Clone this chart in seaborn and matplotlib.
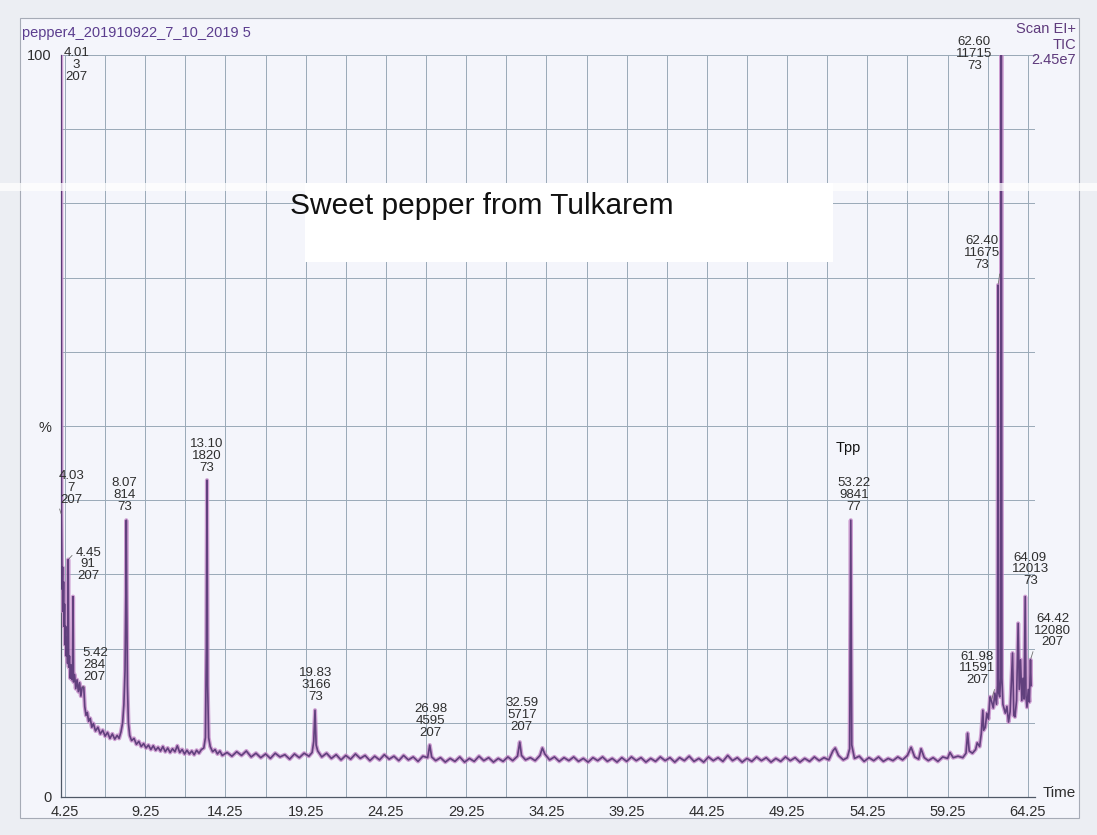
import numpy as np
import seaborn as sns
import matplotlib.pyplot as plt
from matplotlib.patches import Rectangle

# === 1. Trace (retention time in min, % of TIC max) ===
rt_min = [
    4.01, 4.02, 4.03, 4.05, 4.07, 4.10, 4.13, 4.16, 4.19, 4.22, 4.25, 4.29, 4.33, 4.37,
    4.41, 4.45, 4.48, 4.53, 4.58, 4.63, 4.68, 4.72, 4.75, 4.78, 4.85, 4.92, 5.00, 5.08,
    5.16, 5.24, 5.32, 5.42, 5.48, 5.56, 5.64, 5.72, 5.82, 5.92, 6.02, 6.15, 6.30, 6.45,
    6.60, 6.75, 6.90, 7.05, 7.20, 7.35, 7.50, 7.62, 7.74, 7.84, 7.92, 7.99, 8.04, 8.07,
    8.10, 8.14, 8.20, 8.28, 8.40, 8.55, 8.70, 8.85, 9.00, 9.15, 9.30, 9.45, 9.60, 9.75,
    9.90, 10.05, 10.20, 10.35, 10.50, 10.65, 10.80, 10.95, 11.10, 11.25, 11.40, 11.55,
    11.70, 11.85, 12.00, 12.15, 12.30, 12.45, 12.60, 12.75, 12.90, 13.00, 13.06, 13.10,
    13.14, 13.20, 13.30, 13.45, 13.60, 13.75, 13.90, 14.05,
    14.35, 14.65, 14.95, 15.25, 15.55, 15.85, 16.15, 16.45, 16.75, 17.05, 17.35, 17.65,
    17.95, 18.25, 18.55, 18.85, 19.15, 19.45, 19.65, 19.75, 19.83, 19.90, 20.00, 20.25,
    20.55, 20.85, 21.15, 21.45, 21.75, 22.05, 22.35, 22.65, 22.95, 23.25, 23.55, 23.85,
    24.15, 24.45, 24.75, 25.05, 25.35, 25.65, 25.95, 26.25, 26.55, 26.85, 26.98, 27.10,
    27.35, 27.65, 27.95, 28.25, 28.55, 28.85, 29.15, 29.45, 29.75, 30.05, 30.35, 30.65,
    30.95, 31.25, 31.55, 31.85, 32.15, 32.45, 32.59, 32.70, 32.95, 33.25, 33.55, 33.85,
    34.00, 34.15, 34.45, 34.75, 35.05, 35.35, 35.65, 35.95, 36.25, 36.55, 36.85, 37.15,
    37.45, 37.75, 38.05, 38.35, 38.65, 38.95, 39.25, 39.55, 39.85, 40.15, 40.45, 40.75,
    41.05, 41.35, 41.65, 41.95, 42.25, 42.55, 42.85, 43.15, 43.45, 43.75, 44.05, 44.35,
    44.65, 44.95, 45.25, 45.55, 45.85, 46.15, 46.45, 46.75, 47.05, 47.35, 47.65, 47.95,
    48.25, 48.55, 48.85, 49.15, 49.45, 49.75, 50.05, 50.35, 50.65, 50.95, 51.25, 51.55,
    51.85, 52.10, 52.25, 52.45, 52.75, 53.00, 53.15, 53.22, 53.28, 53.45, 53.75, 54.05,
    54.35, 54.65, 54.95, 55.25, 55.55, 55.85, 56.15, 56.45, 56.75, 56.98, 57.20, 57.45,
    57.60, 57.80, 58.05, 58.35, 58.65, 58.95, 59.25, 59.40, 59.60, 59.90, 60.20, 60.40,
    60.50, 60.60, 60.80, 61.00, 61.10, 61.25, 61.35, 61.45, 61.50, 61.60, 61.70, 61.80,
    61.90, 61.98, 62.10, 62.20, 62.30, 62.36, 62.40, 62.44, 62.50, 62.56, 62.60, 62.64,
    62.70, 62.85, 62.95, 63.05, 63.15, 63.30, 63.38, 63.45, 63.55, 63.65, 63.72, 63.80,
    63.88, 63.95, 64.02, 64.09, 64.14, 64.20, 64.28, 64.35, 64.42, 64.46,
]
tic_pct = [
    100, 58, 38, 33, 28, 31, 25, 29, 23, 26, 20.5, 23, 19, 21.5,
    18, 32, 17.5, 19, 16, 17.8, 15.8, 17, 27, 15.5, 16.5, 14.6, 15.8, 14.2,
    15.4, 13.6, 14.8, 14.8, 12.2, 11.0, 11.4, 10.2, 10.6, 9.4, 9.9, 8.9, 9.4, 8.5,
    9.0, 8.2, 8.7, 7.9, 8.5, 7.8, 8.3, 7.9, 8.8, 10.0, 12.5, 17, 27, 37.3,
    26, 15, 10, 8.3, 7.6, 7.9, 7.1, 7.5, 6.8, 7.2, 6.6, 7.0, 6.4, 6.9,
    6.3, 6.7, 6.2, 6.8, 6.1, 6.6, 6.0, 6.5, 6.1, 6.9, 6.0, 6.4,
    5.8, 6.3, 5.8, 6.2, 5.7, 6.3, 5.9, 6.4, 6.6, 8.0, 20, 42.7,
    15, 8.0, 6.8, 6.1, 6.4, 5.8, 6.2, 5.6,
    6.0, 5.5, 6.1, 5.6, 6.2, 5.4, 5.9, 5.3, 5.8, 5.2, 5.9, 5.4,
    5.7, 5.1, 5.8, 5.3, 5.9, 5.5, 6.0, 7.5, 11.7, 7.0, 6.2, 5.4,
    5.9, 5.2, 5.7, 5.0, 5.6, 5.1, 5.8, 5.2, 5.6, 4.9, 5.5, 5.0,
    5.7, 5.1, 5.5, 4.9, 5.6, 5.0, 5.4, 4.8, 5.5, 5.3, 7.0, 5.4,
    4.9, 5.3, 4.7, 5.2, 4.8, 5.4, 4.7, 5.2, 4.8, 5.5, 4.9, 5.3,
    4.7, 5.2, 4.8, 5.4, 4.9, 5.5, 7.4, 5.6, 5.0, 5.3, 4.9, 5.6,
    6.6, 5.8, 5.0, 5.4, 4.8, 5.3, 4.9, 5.4, 4.8, 5.2, 4.7, 5.3,
    4.9, 5.4, 4.8, 5.2, 4.7, 5.3, 4.8, 5.4, 4.9, 5.3, 4.7, 5.2,
    4.8, 5.4, 4.9, 5.3, 4.7, 5.3, 4.9, 5.5, 4.8, 5.2, 4.7, 5.4,
    4.9, 5.3, 4.8, 5.6, 4.9, 5.3, 4.7, 5.2, 4.8, 5.4, 4.9, 5.3,
    4.7, 5.2, 4.8, 5.4, 4.9, 5.3, 4.7, 5.2, 4.8, 5.4, 4.9, 5.3,
    5.0, 6.2, 6.6, 5.6, 5.0, 5.3, 6.5, 37.3, 7.0, 5.2, 5.5, 4.8,
    5.3, 4.9, 5.4, 4.8, 5.2, 4.9, 5.4, 5.0, 5.6, 6.7, 5.4, 5.1,
    6.5, 5.3, 4.9, 5.3, 4.8, 5.4, 5.2, 6.0, 5.3, 5.5, 5.3, 5.9,
    8.6, 6.2, 5.9, 6.4, 7.3, 6.8, 8.5, 11.7, 9.0, 9.4, 11.3, 10.5,
    13.5, 13.0, 12.0, 14.0, 12.5, 15, 69, 14, 13.5, 16, 100, 16,
    12.5, 11.3, 12.2, 10.1, 11.5, 19.4, 11.0, 10.8, 13.0, 23.4, 14.5, 18.5,
    13.0, 16.0, 13.2, 27, 13.5, 12.1, 14.5, 12.8, 18.5, 15,
]

# === 2. Labelled peaks: retention time / scan number / base peak m/z ===
peak_rt = [4.01, 4.03, 4.45, 5.42, 8.07, 13.10, 19.83, 26.98, 32.59,
           53.22, 61.98, 62.40, 62.60, 64.09, 64.42]
peak_pct = [100, 38, 32, 14.8, 37.3, 42.7, 11.7, 7.0, 7.4,
            37.3, 13.0, 69, 100, 27, 18.5]
peak_scan = [3, 7, 91, 284, 814, 1820, 3166, 4595, 5717,
             9841, 11591, 11675, 11715, 12013, 12080]
peak_mz = [207, 207, 207, 207, 73, 73, 73, 207, 207,
           77, 207, 73, 73, 73, 207]

# label placement (pixels from the peak top) and leader-line anchors
label_offset = [(15, 8), (10, 45), (20, 13), (11, 40), (-2, 43), (0, 42), (1, 43),
                (1, 42), (2, 45), (3, 43), (-14, 50), (-16, 50), (-27, 19),
                (5, 45), (22, 47)]
leader_relpos = [None, (0, 0), (0, 0.85), (0, 0), None, None, None, None, None,
                 None, (1, 0), (1, 0), None, None, (0, 0)]

x_ticks = [4.25 + 2.5 * k for k in range(25)]
x_labels = [f"{t:.2f}" if k % 2 == 0 else "" for k, t in enumerate(x_ticks)]

# === 3. Figure ===
sns.set_theme(style="white")
plt.rcParams["font.family"] = ["Liberation Sans", "DejaVu Sans"]

paper = "#f4f5fb"
grid_c = "#9aa9b7"
ink = "#2e2e2e"
purple = "#4e2f6e"
pink = "#c58ac8"

fig = plt.figure(figsize=(10.97, 8.35), dpi=100, facecolor="#eceef3")
fig.add_artist(Rectangle((20 / 1097, 1 - 818 / 835), 1059 / 1097, 800 / 835,
                         transform=fig.transFigure, facecolor=paper,
                         edgecolor="#a6abb6", lw=0.8, zorder=0))

ax = fig.add_axes([61 / 1097, 1 - 797 / 835, 974 / 1097, 742 / 835])
ax.set_facecolor(paper)

sns.lineplot(x=rt_min, y=tic_pct, ax=ax, color=pink, lw=3.0, alpha=0.8,
             estimator=None, sort=False, zorder=3)
sns.lineplot(x=rt_min, y=tic_pct, ax=ax, color=purple, lw=1.2, alpha=0.85,
             estimator=None, sort=False, zorder=4)

ax.set_xlim(4.0, 64.7)
ax.set_ylim(0, 100)

ax.set_xticks(x_ticks)
ax.set_xticklabels(x_labels)
ax.set_xticks([4.25 + k for k in range(61)], minor=True)
ax.set_yticks([0, 50, 100])
ax.set_yticklabels(["0", "%", "100"])
ax.set_yticks(list(range(10, 100, 10)), minor=True)

ax.grid(True, which="major", axis="x", color=grid_c, lw=0.7)
ax.grid(True, which="both", axis="y", color=grid_c, lw=0.7)
ax.tick_params(axis="x", which="major", direction="in", length=5, width=0.7,
               color="#555", labelsize=10.5, labelcolor=ink, pad=6)
ax.tick_params(axis="x", which="minor", direction="in", length=3, width=0.6,
               color="#555")
ax.tick_params(axis="y", which="major", direction="inout", length=8, width=0.7,
               color="#555", labelsize=10.5, labelcolor=ink, pad=3)
ax.tick_params(axis="y", which="minor", length=0)

for side in ["left", "bottom"]:
    ax.spines[side].set_color("#4f5866")
    ax.spines[side].set_linewidth(0.9)
ax.spines["top"].set_color(grid_c)
ax.spines["top"].set_linewidth(0.7)
ax.spines["right"].set_visible(False)

# peak labels
for i, rt in enumerate(peak_rt):
    txt = f"{rt:.2f}\n{peak_scan[i]}\n{peak_mz[i]}"
    props = None
    if leader_relpos[i] is not None:
        props = dict(arrowstyle="-", color="#707070", lw=0.6, shrinkA=0,
                     shrinkB=1, relpos=leader_relpos[i])
    ax.annotate(txt, xy=(rt, peak_pct[i]), xytext=label_offset[i],
                textcoords="offset pixels", ha="center", va="top",
                fontsize=9.5, color=ink, linespacing=0.98,
                arrowprops=props, annotation_clip=False, zorder=6)

fig.text(848 / 1097, 1 - 448 / 835, "Tpp", ha="center", va="center",
         fontsize=10.5, color="#111111")

# header texts
fig.text(22 / 1097, 1 - 33 / 835, "pepper4_201910922_7_10_2019 5",
         ha="left", va="center", fontsize=10.5, color="#5b3d8e")
fig.text(1076 / 1097, 1 - 22 / 835, "Scan EI+\nTIC\n2.45e7", ha="right",
         va="top", fontsize=10.5, color="#5e3a7c", linespacing=1.15)
fig.text(1043 / 1097, 1 - 793 / 835, "Time", ha="left", va="center",
         fontsize=11, color=ink)

# scanner streak and the pasted title box
fig.add_artist(Rectangle((0, 1 - 191 / 835), 1, 8 / 835,
                         transform=fig.transFigure, facecolor="white",
                         edgecolor="none", alpha=0.75, zorder=5))
fig.add_artist(Rectangle((305 / 1097, 1 - 262 / 835), 528 / 1097, 79 / 835,
                         transform=fig.transFigure, facecolor="white",
                         edgecolor="none", zorder=5))
fig.text(290 / 1097, 1 - 206 / 835, "Sweet pepper from Tulkarem", ha="left",
         va="center", fontsize=21.5, color="#111111", zorder=6)

fig.savefig("out.png", dpi=100, facecolor=fig.get_facecolor())
